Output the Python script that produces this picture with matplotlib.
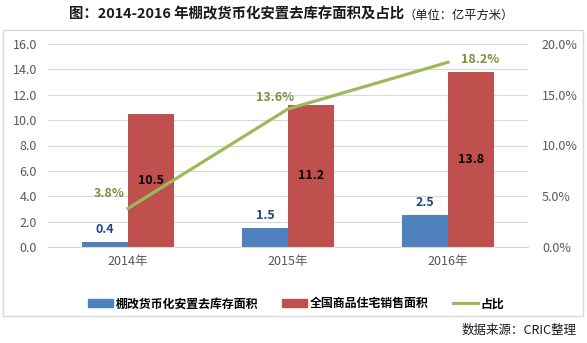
import matplotlib
matplotlib.use("Agg")
import matplotlib.pyplot as plt
from matplotlib.patches import Rectangle, Patch
from matplotlib.lines import Line2D
import numpy as np

plt.rcParams['font.family'] = ['Noto Sans CJK SC', 'DejaVu Sans']

years = ["2014年", "2015年", "2016年"]
shantytown = [0.4, 1.5, 2.5]
national = [10.5, 11.2, 13.8]
ratio = [3.8, 13.6, 18.2]

blue = "#4F81BD"
red = "#C0504D"
green = "#9BBB59"
tick_color = "#595959"

fig = plt.figure(figsize=(5.87, 3.43), dpi=100)
# outer frame
fig.patches.append(Rectangle((3/587, 1-316/343), 580/587, 286/343, transform=fig.transFigure,
                             fill=False, edgecolor="#D9D9D9", linewidth=1.0))

ax = fig.add_axes([48/587, 1-247/343, 480/587, 203/343])
x = np.arange(len(years))
w = 0.2875
ax.bar(x - w/2, shantytown, w, color=blue, zorder=2)
ax.bar(x + w/2, national, w, color=red, zorder=2)
ax.set_xlim(-0.5, 2.5)
ax.set_ylim(0, 16)
yt = np.arange(0, 16.1, 2)
ax.set_yticks(yt)
ax.set_yticklabels([f"{v:.1f}" for v in yt])
ax.set_xticks(x)
ax.set_xticklabels(years)
ax.grid(axis='y', color="#D9D9D9", linewidth=0.8, zorder=0)
for s in ['top', 'right', 'left']:
    ax.spines[s].set_visible(False)
ax.spines['bottom'].set_color("#D9D9D9")
ax.tick_params(axis='both', length=0, labelsize=9, colors=tick_color)
ax.tick_params(axis='y', pad=8)
ax.tick_params(axis='x', pad=6)

for i, v in enumerate(shantytown):
    ax.text(x[i] - w/2, v + 0.5, f"{v:.1f}", ha='center', va='bottom', fontsize=9,
            fontweight='bold', color="#1F497D", zorder=5)
for i, v in enumerate(national):
    ax.text(x[i] + w/2, v/2, f"{v:.1f}", ha='center', va='center', fontsize=9,
            fontweight='bold', color="black", zorder=5)

ax2 = ax.twinx()
ax2.plot(x, ratio, color=green, linewidth=2.3, zorder=3)
ax2.set_ylim(0, 20)
rt = np.arange(0, 20.1, 5)
ax2.set_yticks(rt)
ax2.set_yticklabels([f"{v:.1f}%" for v in rt])
for s in ax2.spines.values():
    s.set_visible(False)
ax2.tick_params(axis='y', length=0, labelsize=9, colors=tick_color, pad=10)

lab_color = "#77933C"
ax2.text(x[0] - 0.02, ratio[0] + 0.8, f"{ratio[0]:.1f}%", ha='right', va='bottom',
         fontsize=9, fontweight='bold', color=lab_color)
ax2.text(x[1] - 0.08, ratio[1] + 0.5, f"{ratio[1]:.1f}%", ha='center', va='bottom',
         fontsize=9, fontweight='bold', color=lab_color)
ax2.text(x[2] + 0.08, ratio[2] - 0.4, f"{ratio[2]:.1f}%", ha='left', va='bottom',
         fontsize=9, fontweight='bold', color=lab_color)

handles = [Patch(color=blue), Patch(color=red), Line2D([0], [0], color=green, linewidth=2.3)]
labels = ["棚改货币化安置去库存面积", "全国商品住宅销售面积", "占比"]
fig.legend(handles, labels, loc='center', bbox_to_anchor=(296/587, 1-304/343), ncol=3,
           frameon=False, handlelength=2.1, handleheight=0.6, columnspacing=2.0,
           handletextpad=0.25, prop={'size': 8.6, 'weight': 'bold'})

fig.text(404/587, 1-14/343, "图：2014-2016 年棚改货币化安置去库存面积及占比", ha='right', va='center',
         fontsize=10.4, fontweight='bold', color="#1a1a1a")
fig.text(404/587, 1-15/343, "（单位：亿平方米）", ha='left', va='center', fontsize=8.8,
         color="#1a1a1a")

fig.text(577/587, 1-330/343, "数据来源：CRIC整理", ha='right', va='center', fontsize=9, color="#1a1a1a")

fig.savefig("out.png", dpi=100)
